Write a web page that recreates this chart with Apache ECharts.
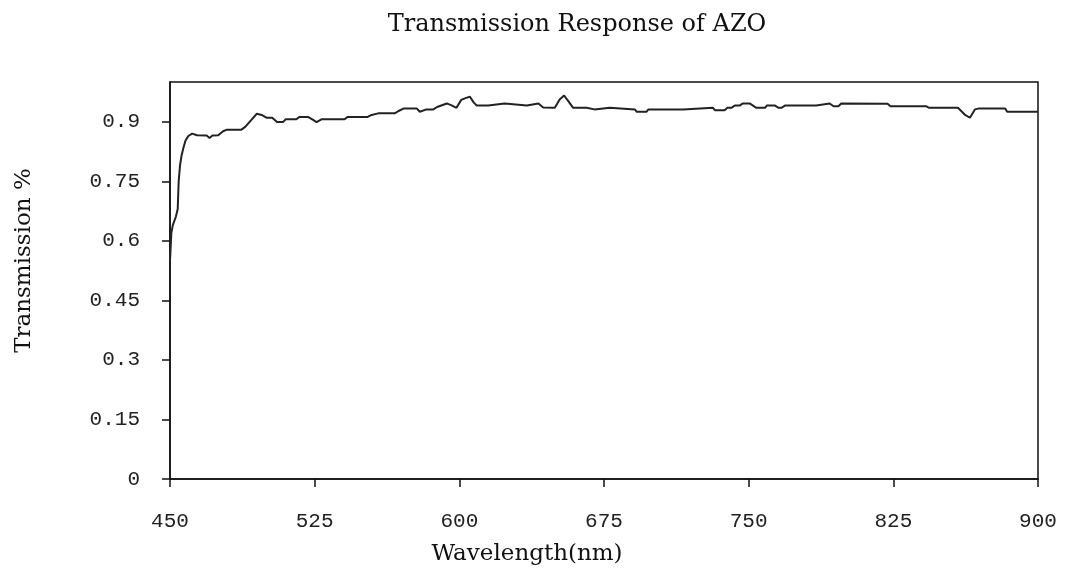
<!DOCTYPE html>
<html>
<head>
<meta charset="utf-8">
<script src="https://cdn.jsdelivr.net/npm/echarts@6/dist/echarts.min.js"></script>
<style>
  html, body { margin: 0; padding: 0; background: #fff; }
  #chart { width: 1065px; height: 584px; }
</style>
</head>
<body>
<div id="chart"></div>
<script>
// Measured transmission spectrum of an AZO film
const wavelength = [
  450, 450.7, 451.5, 453, 454, 454.5, 455.2, 456, 457, 458, 459.5, 461.5, 464, 469, 470.5, 472, 475,
  477.5, 479.5, 487, 489, 491.5, 495, 497.5, 500, 503, 505.5, 508.5, 510, 515.5, 517, 521.5, 524,
  526, 528.5, 540.5, 542, 552.5, 554.5, 558, 566.5, 568.5, 571, 578, 579.5, 583, 586.5, 588.5,
  593.5, 596, 598.5, 601, 603.5, 605.5, 607.5, 609, 615, 616, 623.5, 624.5, 635, 636, 641, 643.5,
  649.5, 652, 654.3, 656.5, 659, 666, 667, 670, 671, 678, 679, 691, 692, 697, 698, 716, 717, 731.5,
  732.5, 737.5, 739, 741, 743, 745.5, 747, 750.5, 754, 758.5, 759.5, 763.5, 765.5, 767, 769, 785,
  786, 792, 794, 796.5, 798, 822, 823.5, 842, 843.5, 858.5, 862, 864.7, 867.3, 869, 883, 884, 900
];
const transmission = [
  0.55, 0.62, 0.64, 0.66, 0.68, 0.75, 0.79, 0.815, 0.835, 0.852, 0.864, 0.870, 0.866, 0.865, 0.859, 0.865, 0.866,
  0.876, 0.880, 0.880, 0.887, 0.901, 0.920, 0.917, 0.910, 0.910, 0.899, 0.899, 0.906, 0.906, 0.912, 0.912, 0.905,
  0.899, 0.906, 0.906, 0.912, 0.912, 0.917, 0.921, 0.921, 0.927, 0.933, 0.933, 0.925, 0.931, 0.931, 0.937,
  0.946, 0.941, 0.935, 0.955, 0.960, 0.963, 0.948, 0.941, 0.941, 0.946, 0.946, 0.941, 0.941, 0.946, 0.946, 0.936,
  0.935, 0.956, 0.966, 0.952, 0.935, 0.935, 0.931, 0.931, 0.935, 0.935, 0.931, 0.931, 0.925, 0.925, 0.931, 0.931, 0.935, 0.935,
  0.929, 0.929, 0.935, 0.935, 0.941, 0.941, 0.946, 0.946, 0.935, 0.935, 0.941, 0.941, 0.935, 0.935, 0.941, 0.941,
  0.946, 0.946, 0.939, 0.939, 0.946, 0.945, 0.939, 0.939, 0.935, 0.935, 0.918, 0.910, 0.931, 0.933, 0.933, 0.925, 0.925
];
const yTickValues = [0, 0.15, 0.3, 0.45, 0.6, 0.75, 0.9];

const chartTitle = 'Transmission Response of AZO';
const xName = 'Wavelength(nm)';
const yName = 'Transmission %';

const points = wavelength.map((w, i) => [w, transmission[i]]);

const serif = '"DejaVu Serif", "Liberation Serif", serif';
const tickFont = '"Liberation Mono", "DejaVu Sans Mono", monospace';

const chart = echarts.init(document.getElementById('chart'), null, { renderer: 'canvas' });
chart.setOption({
  backgroundColor: '#ffffff',
  animation: false,
  title: {
    text: chartTitle,
    left: 572,
    top: 8,
    textAlign: 'center',
    textStyle: { fontFamily: serif, fontWeight: 'normal', fontSize: 24, color: '#111' }
  },
  grid: {
    left: 170, right: 27, top: 82, bottom: 105,
    show: true, borderColor: '#111', borderWidth: 1.5, backgroundColor: 'transparent'
  },
  xAxis: {
    type: 'value',
    min: 450, max: 900, interval: 75,
    name: xName,
    nameLocation: 'middle',
    nameGap: 64,
    nameTextStyle: { fontFamily: serif, fontSize: 23, color: '#111', padding: [0, 154, 0, 0] },
    axisLine: { show: true, lineStyle: { color: '#111', width: 1.5 } },
    axisTick: { show: true, inside: false, length: 8, lineStyle: { color: '#111', width: 1.5 } },
    axisLabel: { margin: 32, fontFamily: tickFont, fontSize: 21, color: '#222' },
    splitLine: { show: false }
  },
  yAxis: {
    type: 'value',
    min: 0, max: 1, interval: 0.15,
    name: yName,
    nameLocation: 'middle',
    nameGap: 134,
    nameRotate: 90,
    nameTextStyle: { fontFamily: serif, fontSize: 23, color: '#111', padding: [0, 0, 0, 40] },
    axisLine: { show: true, lineStyle: { color: '#111', width: 1.5 } },
    axisTick: { show: true, inside: false, length: 8, customValues: yTickValues, lineStyle: { color: '#111', width: 1.5 } },
    axisLabel: { margin: 30, fontFamily: tickFont, fontSize: 21, color: '#222', customValues: yTickValues },
    splitLine: { show: false }
  },
  series: [{
    type: 'line',
    data: points,
    showSymbol: false,
    smooth: false,
    lineStyle: { color: '#222', width: 2 }
  }]
});
</script>
</body>
</html>
